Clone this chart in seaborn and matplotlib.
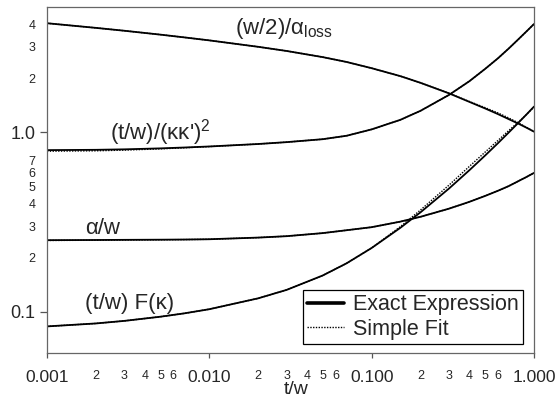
import matplotlib
matplotlib.use("Agg")
import matplotlib.pyplot as plt
import seaborn as sns
from matplotlib.lines import Line2D
from matplotlib.ticker import FixedLocator, FixedFormatter

# ---------------- data ----------------
t_w = [0.001, 0.002, 0.003, 0.005, 0.007, 0.01, 0.02, 0.03, 0.05, 0.07,
       0.1, 0.15, 0.2, 0.3, 0.4, 0.5, 0.6, 0.7, 0.8, 0.9, 1.0]

loss_exact = [4.06, 3.825, 3.686, 3.507, 3.386, 3.258, 3.00, 2.843, 2.628, 2.47,
              2.28, 2.06, 1.89, 1.65, 1.48, 1.36, 1.265, 1.185, 1.12, 1.062, 1.01]
loss_fit = [4.06, 3.825, 3.686, 3.507, 3.386, 3.258, 3.00, 2.843, 2.628, 2.47,
            2.28, 2.06, 1.89, 1.652, 1.487, 1.374, 1.284, 1.203, 1.131, 1.067, 1.01]

kk_exact = [0.797, 0.800, 0.805, 0.815, 0.824, 0.835, 0.862, 0.883, 0.917, 0.958,
            1.04, 1.175, 1.32, 1.62, 1.93, 2.26, 2.59, 2.94, 3.30, 3.66, 4.02]
kk_fit = [0.786, 0.790, 0.797, 0.810, 0.821, 0.834, 0.862, 0.883, 0.917, 0.958,
          1.04, 1.175, 1.32, 1.62, 1.93, 2.26, 2.59, 2.94, 3.30, 3.66, 4.02]

a_exact = [0.251, 0.2515, 0.252, 0.2525, 0.253, 0.254, 0.2594, 0.2642, 0.2748, 0.2851,
           0.2965, 0.3183, 0.3388, 0.3762, 0.4105, 0.4427, 0.4732, 0.5028, 0.535, 0.565, 0.595]
a_fit = [0.250, 0.2508, 0.2515, 0.2522, 0.2528, 0.2538, 0.2594, 0.2642, 0.2748, 0.2851,
         0.2965, 0.3183, 0.3388, 0.3762, 0.4105, 0.4427, 0.4732, 0.5028, 0.535, 0.565, 0.595]

f_exact = [0.083, 0.0862, 0.0891, 0.0940, 0.0981, 0.1035, 0.1190, 0.1327, 0.1596, 0.1864,
           0.2271, 0.2938, 0.3589, 0.4875, 0.616, 0.7438, 0.8717, 1.0007, 1.130, 1.2605, 1.393]
f_fit = [0.083, 0.0862, 0.0891, 0.0940, 0.0981, 0.1035, 0.1190, 0.1327, 0.1596, 0.1864,
         0.2271, 0.2982, 0.3697, 0.5094, 0.6468, 0.7773, 0.9022, 1.0257, 1.1413, 1.2605, 1.386]

curve_labels = [r"(w/2)/α$_{\mathrm{loss}}$", r"(t/w)/(κκ')$^{2}$", "α/w", "(t/w) F(κ)"]
legend_labels = ["Exact Expression", "Simple Fit"]
x_title = "t/w"

x_major = [0.001, 0.01, 0.1, 1.0]
x_major_labels = ["0.001", "0.010", "0.100", "1.000"]
x_minor = [0.002, 0.003, 0.004, 0.005, 0.006,
           0.02, 0.03, 0.04, 0.05, 0.06,
           0.2, 0.3, 0.4, 0.5, 0.6]
x_minor_labels = ["2", "3", "4", "5", "6"] * 3
y_major = [0.1, 1.0]
y_major_labels = ["0.1", "1.0"]
y_minor = [0.2, 0.3, 0.4, 0.5, 0.6, 0.7, 2, 3, 4]
y_minor_labels = ["2", "3", "4", "5", "6", "7", "2", "3", "4"]

# ---------------- style ----------------
sns.set_style("white")
plt.rcParams["font.family"] = ["Liberation Sans", "DejaVu Sans"]
plt.rcParams["mathtext.fontset"] = "custom"
plt.rcParams["mathtext.rm"] = "Liberation Sans"
plt.rcParams["mathtext.it"] = "Liberation Sans:italic"
plt.rcParams["mathtext.bf"] = "Liberation Sans:bold"

fig = plt.figure(figsize=(5.58, 4.05), dpi=100)
ax = fig.add_axes([47 / 558, (405 - 353) / 405, 487 / 558, 346 / 405])

exact_series = [loss_exact, kk_exact, a_exact, f_exact]
fit_series = [loss_fit, kk_fit, a_fit, f_fit]

for ys in exact_series:
    sns.lineplot(x=t_w, y=ys, ax=ax, color="black", linewidth=1.3,
                 linestyle="-", estimator=None, sort=False, legend=False)
for ys in fit_series:
    sns.lineplot(x=t_w, y=ys, ax=ax, color="black", linewidth=1.0,
                 linestyle=(0, (1, 1)), estimator=None, sort=False, legend=False)

ax.set_xscale("log")
ax.set_yscale("log")
ax.set_xlim(0.001, 1.0)
ax.set_ylim(0.059, 5.0)

ax.xaxis.set_major_locator(FixedLocator(x_major))
ax.xaxis.set_major_formatter(FixedFormatter(x_major_labels))
ax.xaxis.set_minor_locator(FixedLocator(x_minor))
ax.xaxis.set_minor_formatter(FixedFormatter(x_minor_labels))
ax.yaxis.set_major_locator(FixedLocator(y_major))
ax.yaxis.set_major_formatter(FixedFormatter(y_major_labels))
ax.yaxis.set_minor_locator(FixedLocator(y_minor))
ax.yaxis.set_minor_formatter(FixedFormatter(y_minor_labels))

tick_col = "#555555"
ax.tick_params(axis="x", which="major", bottom=True, direction="out", length=3.8,
               width=0.9, color=tick_col, pad=8.4, labelsize=12.5)
ax.tick_params(axis="x", which="minor", bottom=True, length=0, pad=12.2, labelsize=9)
ax.tick_params(axis="y", which="major", left=True, direction="out", length=5,
               width=0.9, color=tick_col, pad=3.4, labelsize=13)
ax.tick_params(axis="y", which="minor", left=True, length=0, pad=8.4, labelsize=9)

for sp in ax.spines.values():
    sp.set_visible(True)
    sp.set_color("#666666")
    sp.set_linewidth(0.9)

ax.set_xlabel(x_title, fontsize=14)
ax.xaxis.set_label_coords(0.511, -0.082)
ax.xaxis.label.set_va("top")
ax.set_ylabel("")

# curve annotations (axes-fraction placement)
ann_pos = [(0.386, 0.923), (0.129, 0.616), (0.078, 0.343), (0.078, 0.126)]
for lab, (px, py) in zip(curve_labels, ann_pos):
    ax.text(px, py, lab, transform=ax.transAxes, fontsize=16,
            ha="left", va="baseline")

handles = [Line2D([], [], color="black", linewidth=2.6, linestyle="-"),
           Line2D([], [], color="black", linewidth=1.0, linestyle=(0, (1, 1)))]
leg = ax.legend(handles, legend_labels, loc="lower right",
                bbox_to_anchor=(0.978, 0.026), borderaxespad=0, fontsize=15.5,
                frameon=True, fancybox=False, handlelength=1.7,
                handletextpad=0.45, labelspacing=0.15, borderpad=0.2)
leg.get_frame().set_edgecolor("black")
leg.get_frame().set_linewidth(0.9)
leg.get_frame().set_alpha(1)

fig.savefig("out.png", dpi=100, facecolor="white")
